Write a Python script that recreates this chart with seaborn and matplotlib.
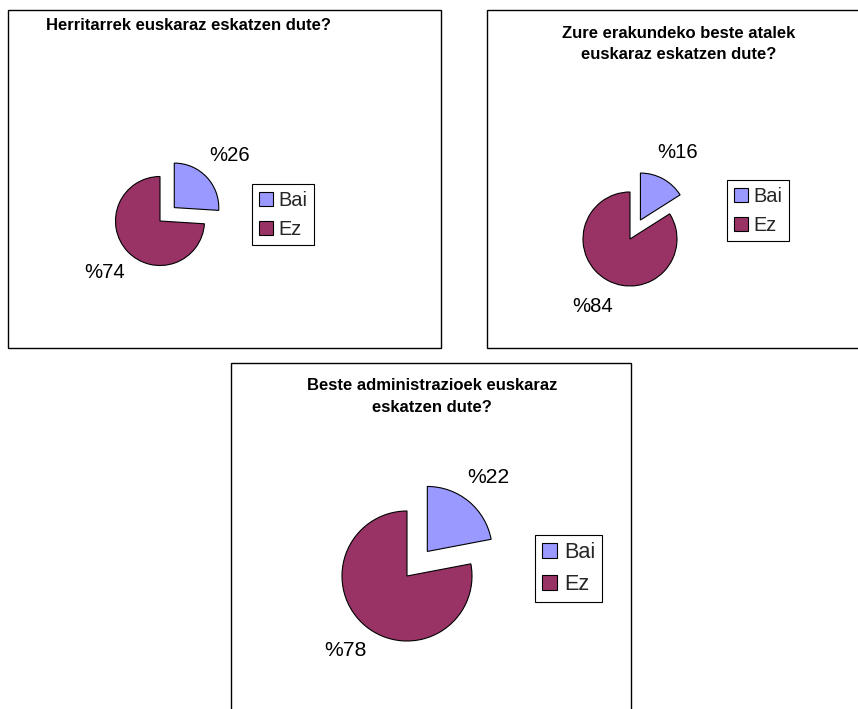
import math
import matplotlib
matplotlib.use("Agg")
import matplotlib.pyplot as plt
import seaborn as sns
from matplotlib.patches import Rectangle

# ---- data ----
categories = ["Bai", "Ez"]
title_herritarrak = "Herritarrek euskaraz eskatzen dute?"
title_atalak = "Zure erakundeko beste atalek\neuskaraz eskatzen dute?"
title_administrazioak = "Beste administrazioek euskaraz\neskatzen dute?"
values_herritarrak = [26, 74]
values_atalak = [16, 84]
values_administrazioak = [22, 78]
colors = ["#9999FF", "#993366"]

sns.set_theme(style="white")
plt.rcParams['font.family'] = ['Liberation Sans', 'DejaVu Sans']

W, H = 858, 709
fig = plt.figure(figsize=(W / 100, H / 100), dpi=100)
fig.patch.set_facecolor("white")
bg = fig.add_axes([0, 0, 1, 1])
bg.set_xlim(0, W)
bg.set_ylim(H, 0)
bg.axis('off')

panels = [
    dict(values=values_herritarrak, title=title_herritarrak, box=(8, 10, 441, 348),
         title_xy=(188, 26), center=(160, 221), r=44.5, explode=0.44, ld=1.7,
         legend=(252, 184), fs=14.6, lfs=14.4),
    dict(values=values_atalak, title=title_atalak, box=(487, 10, 880, 348),
         title_xy=(679, 44), center=(630, 239), r=47, explode=0.46, ld=1.63,
         legend=(727, 180), fs=14.6, lfs=14.4),
    dict(values=values_administrazioak, title=title_administrazioak, box=(231, 363, 631, 730),
         title_xy=(432, 396.5), center=(407, 576), r=65, explode=0.49, ld=1.48,
         legend=(535, 535), fs=15.2, lfs=15.6),
]

for p in panels:
    x0, y0, x1, y1 = p["box"]
    bg.add_patch(Rectangle((x0, y0), x1 - x0, y1 - y0, fill=False,
                           edgecolor="black", linewidth=1.0))
    bg.text(p["title_xy"][0], p["title_xy"][1], p["title"], ha="center", va="center",
            fontsize=12, fontweight="bold", color="black", linespacing=1.5)

    cx, cy = p["center"]
    hs = 125
    ax = fig.add_axes([(cx - hs) / W, 1 - (cy + hs) / H, 2 * hs / W, 2 * hs / H])
    wedges, texts = ax.pie(
        p["values"], colors=colors, startangle=90, counterclock=False,
        explode=[p["explode"], 0], radius=1,
        wedgeprops=dict(edgecolor="black", linewidth=0.8),
    )
    # percentage labels placed along each wedge's bisector
    total = sum(p["values"])
    theta = 90.0
    for i, v in enumerate(p["values"]):
        frac = v / total * 360
        thetam = math.radians(theta - frac / 2)
        ex = p["explode"] if i == 0 else 0
        xt = (ex + p["ld"]) * math.cos(thetam)
        yt = (ex + p["ld"]) * math.sin(thetam)
        ax.text(xt, yt, f"%{v}", ha="center", va="center", fontsize=p["fs"], color="black")
        theta -= frac
    lim = hs / p["r"]
    ax.set_xlim(-lim, lim)
    ax.set_ylim(-lim, lim)
    ax.set_aspect("equal")
    ax.axis("off")

    lx, ly = p["legend"]
    leg = ax.legend(wedges, categories, loc="upper left",
                    bbox_to_anchor=(lx / W, 1 - ly / H), bbox_transform=fig.transFigure,
                    frameon=True, fancybox=False, edgecolor="black", framealpha=1,
                    borderpad=0.33, handlelength=0.7, handleheight=0.7, handletextpad=0.3,
                    labelspacing=0.5, borderaxespad=0, fontsize=p["lfs"])
    leg.get_frame().set_linewidth(0.8)

fig.savefig("out.png", dpi=100, facecolor="white")
